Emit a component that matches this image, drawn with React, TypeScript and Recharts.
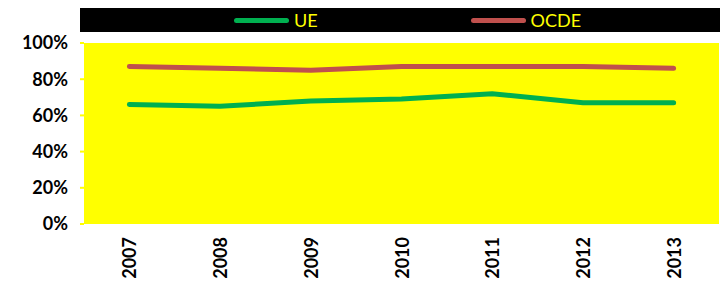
import { CartesianGrid, Legend, Line, LineChart, XAxis, YAxis } from "recharts";

const years = ["2007", "2008", "2009", "2010", "2011", "2012", "2013"];
const ueValues = [66, 65, 68, 69, 72, 67, 67];
const ocdeValues = [87, 86, 85, 87, 87, 87, 86];
const yTicks = [0, 20, 40, 60, 80, 100];
const yearTicks = [0, 1, 2, 3, 4, 5, 6];
const boundaryTicks = [-0.5, 0.5, 1.5, 2.5, 3.5, 4.5, 5.5, 6.5];
const seriesOrder = ["UE", "OCDE"];

const UE_COLOR = "#00B050";
const OCDE_COLOR = "#C0504D";
const YELLOW = "#FFFF00";
const FONT = "Lato, 'Open Sans', sans-serif";

const data = years.map((year, i) => ({
	year,
	idx: i,
	UE: ueValues[i],
	OCDE: ocdeValues[i]
}));

function YearTick({ x, y, payload }: { x: number; y: number; payload: { value: number } }) {
	return (
		<text
			x={x}
			y={y}
			transform={`rotate(-90, ${x}, ${y})`}
			textAnchor="end"
			dominantBaseline="central"
			fontFamily={FONT}
			fontWeight={700}
			fontSize={18}
			fill="#000"
		>
			{years[payload.value]}
		</text>
	);
}

function BlackLegend({ payload }: { payload?: { value: string; color: string }[] }) {
	const items = [...(payload ?? [])].sort((a, b) => seriesOrder.indexOf(a.value) - seriesOrder.indexOf(b.value));
	return (
		<div
			style={{
				background: "#000",
				height: 24,
				display: "flex",
				alignItems: "center",
				justifyContent: "center",
				gap: 153,
				paddingLeft: 15,
				boxSizing: "border-box",
				fontFamily: FONT,
				fontSize: 18,
				color: YELLOW
			}}
		>
			{items.map((item) => (
				<div key={item.value} style={{ display: "flex", alignItems: "center", gap: 5 }}>
					<span style={{ width: 55, height: 5, borderRadius: 3, background: item.color, display: "inline-block" }} />
					<span>{item.value}</span>
				</div>
			))}
		</div>
	);
}

export default function App() {
	return (
		<div style={{ position: "absolute", left: 0, top: 0, background: "#fff" }}>
			<LineChart width={720} height={283} data={data} margin={{ top: 19, right: 1, left: 0, bottom: 0 }}>
				<CartesianGrid xAxisId="labels" fill={YELLOW} horizontal={false} vertical={false} />
				<XAxis
					xAxisId="bounds"
					type="number"
					dataKey="idx"
					domain={[-0.5, 6.5]}
					ticks={boundaryTicks}
					tick={false}
					height={0}
					tickSize={5}
					axisLine={false}
					tickLine={{ stroke: YELLOW, strokeWidth: 2 }}
				/>
				<XAxis
					xAxisId="labels"
					type="number"
					dataKey="idx"
					domain={[-0.5, 6.5]}
					ticks={yearTicks}
					interval={0}
					height={59}
					axisLine={false}
					tickLine={false}
					tickSize={0}
					tickMargin={13}
					tick={YearTick}
				/>
				<YAxis
					width={84}
					domain={[0, 100]}
					ticks={yTicks}
					tickFormatter={(v) => `${v}%`}
					axisLine={false}
					tickSize={4}
					tickMargin={12}
					tickLine={{ stroke: YELLOW, strokeWidth: 2 }}
					tick={{ fill: "#000", fontFamily: FONT, fontWeight: 700, fontSize: 18 }}
				/>
				<Legend
					verticalAlign="top"
					content={<BlackLegend />}
					wrapperStyle={{ top: 8, left: 80, width: 640, height: 24 }}
				/>
				<Line
					xAxisId="labels"
					type="linear"
					dataKey="UE"
					stroke={UE_COLOR}
					strokeWidth={5}
					strokeLinecap="round"
					dot={false}
					isAnimationActive={false}
				/>
				<Line
					xAxisId="labels"
					type="linear"
					dataKey="OCDE"
					stroke={OCDE_COLOR}
					strokeWidth={5}
					strokeLinecap="round"
					dot={false}
					isAnimationActive={false}
				/>
			</LineChart>
		</div>
	);
}
